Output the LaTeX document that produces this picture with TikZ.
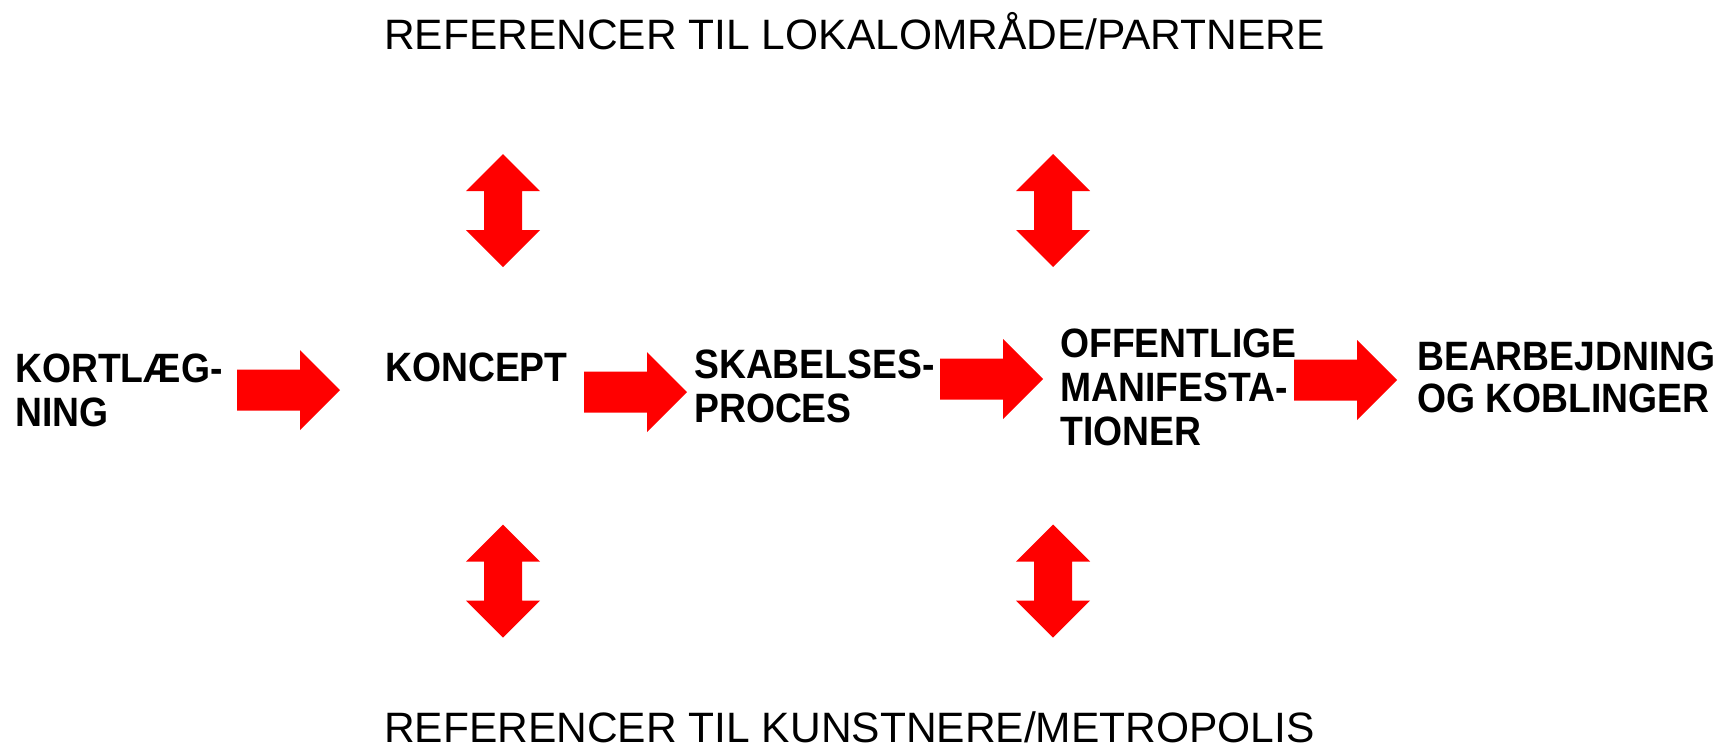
\documentclass[tikz,border=0pt]{standalone}
\usepackage{fontspec}
\setmainfont{Liberation Sans}
\newfontfamily\bcond{Liberation Sans}[FakeStretch=0.91]
\definecolor{arrowred}{HTML}{FF0000}
\tikzset{
  title/.style={anchor=base west, inner sep=0pt, font=\fontsize{42.5}{50}\selectfont},
  label/.style={anchor=north west, inner sep=0pt, align=left, font=\bcond\bfseries\fontsize{41}{44}\selectfont},
  harrow/.pic={\fill[arrowred] (0,-20.5) -- (63,-20.5) -- (63,-40) -- (103,0) -- (63,40) -- (63,20.5) -- (0,20.5) -- cycle;},
  vdbl/.pic={\fill[arrowred] (0,-56.5) -- (37,-19.5) -- (19,-19.5) -- (19,19.5) -- (37,19.5) -- (0,56.5) -- (-37,19.5) -- (-19,19.5) -- (-19,-19.5) -- (-37,-19.5) -- cycle;}
}
\begin{document}
\begin{tikzpicture}[x=1pt,y=-1pt]
\useasboundingbox (0,0) rectangle (1719,748);
\node[title] (top) at (384,49) {REFERENCER TIL LOKALOMRÅDE/PARTNERE};
\node[title] (bot) at (384,742) {REFERENCER TIL KUNSTNERE/METROPOLIS};
\node[label] (kort) at (15,354) {KORTLÆG-\\NING};
\node[label] (konc) at (385,353) {KONCEPT};
\node[label] (skab) at (694,350) {SKABELSES-\\PROCES};
\node[label] (off) at (1060,329) {OFFENTLIGE\\MANIFESTA-\\TIONER};
\node[label, font=\bcond\bfseries\fontsize{41}{42}\selectfont] (bear) at (1417,342) {BEARBEJDNING\\OG KOBLINGER};
\pic (a1) at (237,390) {harrow};
\pic (a2) at (584,392) {harrow};
\pic (a3) at (940,379) {harrow};
\pic (a4) at (1294,380) {harrow};
\pic (v1) at (503,210.5) {vdbl};
\pic (v2) at (1053,210.5) {vdbl};
\pic (v3) at (503,581) {vdbl};
\pic (v4) at (1053,581) {vdbl};
\end{tikzpicture}
\end{document}
